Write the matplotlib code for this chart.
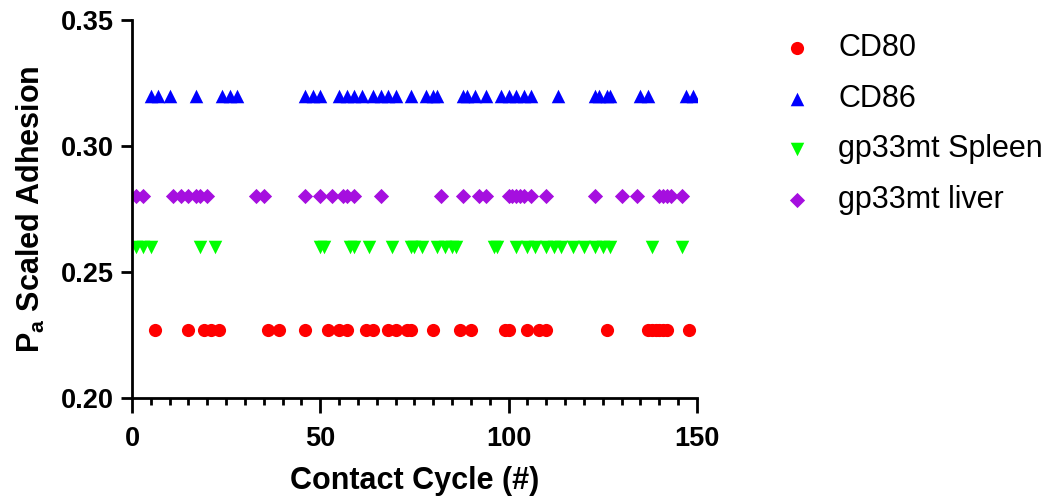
import matplotlib.pyplot as plt

plt.rcParams['font.family'] = ['Liberation Sans', 'DejaVu Sans']
plt.rcParams['mathtext.fontset'] = 'custom'
plt.rcParams['mathtext.rm'] = 'Liberation Sans:bold'
plt.rcParams['mathtext.default'] = 'rm'

# contact cycles at which each sample was recorded
cd80_x = [6, 15, 19, 21, 23, 36, 39, 46, 52, 55, 57, 62, 64, 68, 70, 73, 74,
          80, 87, 90, 99, 100, 105, 108, 110, 126, 137, 138, 139, 140, 141,
          142, 148]
cd86_x = [5, 7, 10, 17, 24, 26, 28, 46, 48, 50, 55, 57, 59, 61, 64, 66, 68,
          70, 74, 78, 80, 81, 88, 89, 91, 94, 98, 100, 102, 104, 106, 113,
          123, 124, 126, 127, 135, 137, 147, 149]
spleen_x = [1, 3, 5, 18, 22, 50, 51, 58, 59, 63, 69, 74, 75, 77, 81, 83, 85,
            86, 96, 97, 102, 105, 107, 110, 112, 114, 117, 120, 123, 125, 127,
            138, 146]
liver_x = [1, 3, 11, 13, 15, 17, 18, 20, 33, 35, 46, 50, 53, 56, 57, 59, 66,
           82, 88, 92, 94, 100, 101, 102, 103, 104, 106, 110, 123, 130, 134,
           140, 141, 142, 143, 146]

# scaled adhesion level of each sample
cd80_y = 0.227
cd86_y = 0.320
spleen_y = 0.260
liver_y = 0.280

series = [
    ("CD80", cd80_x, cd80_y, "o", "#FF0000", 90),
    ("CD86", cd86_x, cd86_y, "^", "#0000FF", 95),
    ("gp33mt Spleen", spleen_x, spleen_y, "v", "#00FF00", 95),
    ("gp33mt liver", liver_x, liver_y, "D", "#A50FDF", 60),
]

fig = plt.figure(figsize=[10.5, 4.98], dpi=100)
ax = fig.add_axes([0.1257, 0.2008, 0.5381, 0.7592])

for name, xs, yv, mk, col, sz in series:
    ax.scatter(xs, [yv] * len(xs), marker=mk, s=sz, color=col,
               linewidths=0, label=name)

ax.set_xlim(0, 150)
ax.set_ylim(0.20, 0.35)
ax.set_xticks([0, 50, 100, 150])
ax.set_xticks(range(0, 151, 5), minor=True)
ax.set_yticks([0.20, 0.25, 0.30, 0.35])
ax.set_yticklabels(["0.20", "0.25", "0.30", "0.35"])

for s in ["top", "right"]:
    ax.spines[s].set_visible(False)
for s in ["left", "bottom"]:
    ax.spines[s].set_linewidth(2.0)

ax.tick_params(axis="both", which="major", width=2.0, length=8,
               labelsize=19.5, pad=5)
ax.tick_params(axis="x", which="minor", width=2.0, length=5)
ax.tick_params(axis="x", which="major", length=11, pad=9)
for lbl in ax.get_xticklabels() + ax.get_yticklabels():
    lbl.set_fontweight("bold")

ax.set_xlabel("Contact Cycle (#)", fontsize=22, fontweight="bold", labelpad=10)
ax.set_ylabel("P$_{a}$ Scaled Adhesion", fontsize=22, fontweight="bold",
              labelpad=10)

ax.legend(loc="upper left", bbox_to_anchor=(0.718, 0.958),
          bbox_transform=fig.transFigure, frameon=False, fontsize=22,
          handletextpad=0.36, labelspacing=0.67, borderaxespad=0)

plt.savefig("out.png", dpi=100)
